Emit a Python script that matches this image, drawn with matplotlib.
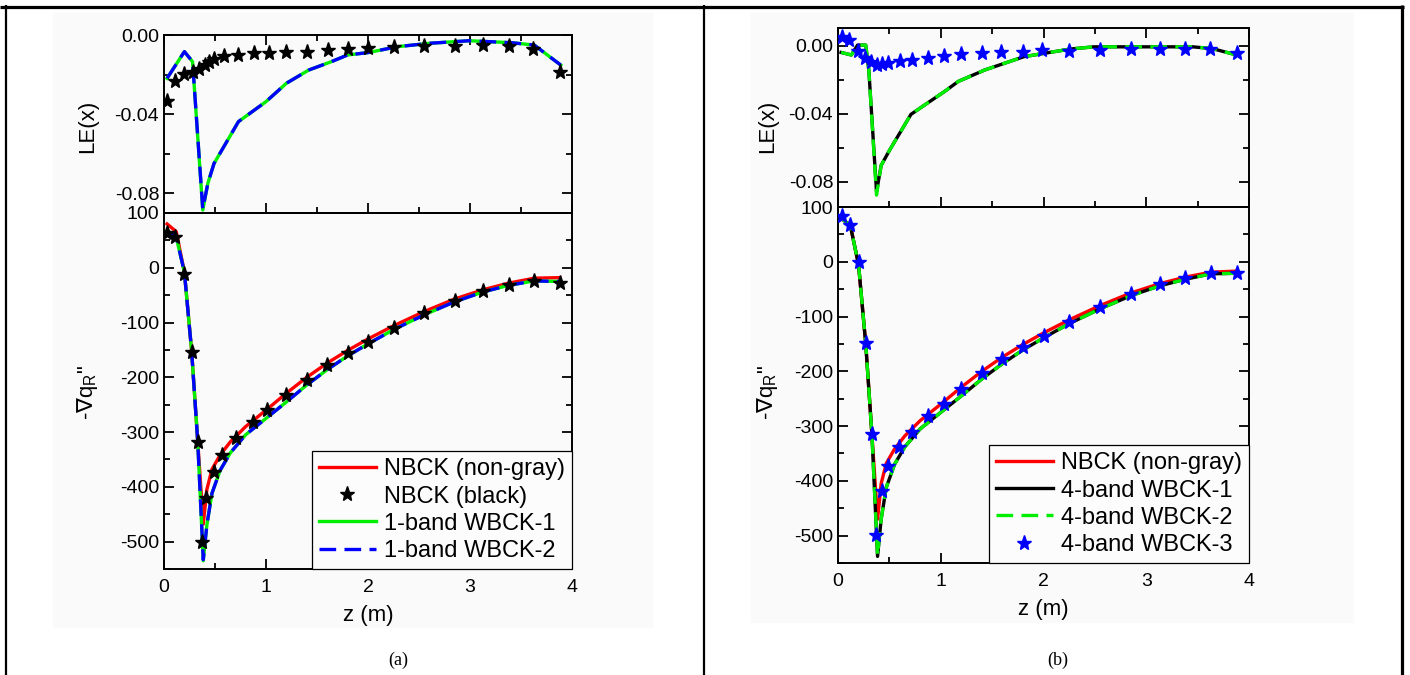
import matplotlib
matplotlib.use('Agg')
import matplotlib.pyplot as plt
from matplotlib.ticker import MultipleLocator, FormatStrFormatter
from matplotlib.patches import Rectangle
from matplotlib.lines import Line2D

plt.rcParams['font.family'] = ['Liberation Sans', 'DejaVu Sans']
plt.rcParams['axes.unicode_minus'] = False
plt.rcParams['mathtext.fontset'] = 'dejavusans'

# ---------------- panel (a) ----------------
# LE(x), 1-band WBCK lines
a_le_z = [0.03, 0.20, 0.28, 0.38, 0.43, 0.49, 0.73, 1.00, 1.20, 1.42, 1.64, 1.80,
          2.00, 2.29, 2.60, 2.99, 3.41, 3.63, 3.89]
a_le_w1 = [-0.0219, -0.0084, -0.0135, -0.0885, -0.0750, -0.0650, -0.0438, -0.0337,
           -0.0244, -0.0177, -0.0135, -0.0101, -0.0089, -0.0059, -0.0042, -0.0029,
           -0.0039, -0.0051, -0.0152]
a_le_w2 = [-0.0219, -0.0084, -0.0135, -0.0880, -0.0750, -0.0650, -0.0438, -0.0337,
           -0.0244, -0.0177, -0.0135, -0.0101, -0.0089, -0.0059, -0.0042, -0.0029,
           -0.0039, -0.0051, -0.0152]
# LE(x), NBCK (black) stars
a_le_bz = [0.03, 0.11, 0.20, 0.28, 0.34, 0.40, 0.44, 0.49, 0.59, 0.73, 0.88, 1.03,
           1.20, 1.40, 1.61, 1.80, 2.00, 2.25, 2.55, 2.85, 3.13, 3.38, 3.62, 3.88]
a_le_black = [-0.0333, -0.0231, -0.0199, -0.0185, -0.0173, -0.0150, -0.0135, -0.0123,
              -0.0106, -0.0101, -0.0093, -0.0093, -0.0088, -0.0084, -0.0076, -0.0072,
              -0.0067, -0.0062, -0.0056, -0.0056, -0.0051, -0.0056, -0.0072, -0.0185]

# -div q_R
a_q_z = [0.03, 0.12, 0.20, 0.27, 0.33, 0.385, 0.42, 0.47, 0.55, 0.65, 0.80, 1.00,
         1.20, 1.40, 1.60, 1.80, 2.00, 2.25, 2.55, 2.85, 3.13, 3.38, 3.63, 3.88]
a_q_nongray = [80, 66, -8, -150, -315, -468, -405, -368, -342, -318, -290, -260,
               -229, -200, -174, -151, -130, -106, -80, -57, -40, -28, -19, -18]
a_q_w1 = [68, 56, -8, -150, -315, -535, -470, -412, -370, -338, -305, -275,
          -245, -214, -186, -161, -139, -113, -86, -62, -44, -32, -24, -25]
a_q_w2 = [68, 56, -8, -150, -315, -533, -470, -412, -370, -338, -305, -275,
          -245, -214, -186, -161, -139, -113, -86, -62, -44, -32, -24, -25]
a_q_bz = [0.03, 0.11, 0.20, 0.27, 0.33, 0.37, 0.41, 0.49, 0.57, 0.71, 0.87, 1.01,
          1.20, 1.40, 1.60, 1.80, 2.00, 2.25, 2.55, 2.85, 3.13, 3.38, 3.63, 3.88]
a_q_black = [63, 57, -12, -153, -318, -500, -420, -373, -342, -311, -282, -260,
             -232, -205, -178, -155, -135, -110, -83, -60, -43, -32, -24, -27]

# ---------------- panel (b) ----------------
b_le_z = [0.03, 0.13, 0.19, 0.27, 0.30, 0.375, 0.42, 0.50, 0.71, 0.85, 1.04, 1.17,
          1.43, 1.62, 1.81, 2.00, 2.26, 2.49, 2.81, 3.13, 3.45, 3.64, 3.88]
b_le_w1 = [-0.0039, -0.0054, 0.0004, 0.0004, -0.0142, -0.0860, -0.0705, -0.0617,
           -0.0404, -0.0346, -0.0268, -0.0210, -0.0142, -0.0103, -0.0064, -0.0045,
           -0.0019, -0.0006, -0.0006, -0.0006, -0.0006, -0.0016, -0.0054]
b_le_w2 = [-0.0039, -0.0054, 0.0004, 0.0004, -0.0142, -0.0880, -0.0705, -0.0617,
           -0.0404, -0.0346, -0.0268, -0.0210, -0.0142, -0.0103, -0.0064, -0.0045,
           -0.0019, -0.0006, -0.0006, -0.0006, -0.0006, -0.0016, -0.0054]
b_le_sz = [0.04, 0.11, 0.19, 0.26, 0.32, 0.38, 0.43, 0.49, 0.60, 0.72, 0.88, 1.03,
           1.20, 1.40, 1.59, 1.80, 1.99, 2.25, 2.55, 2.85, 3.13, 3.38, 3.62, 3.88]
b_le_w3 = [0.0052, 0.0033, -0.0029, -0.0074, -0.0093, -0.0113, -0.0107, -0.0099,
           -0.0089, -0.0083, -0.0074, -0.0060, -0.0050, -0.0045, -0.0039, -0.0039,
           -0.0025, -0.0029, -0.0025, -0.0021, -0.0016, -0.0019, -0.0016, -0.0045]

b_q_z = [0.03, 0.12, 0.20, 0.27, 0.33, 0.385, 0.42, 0.47, 0.55, 0.65, 0.80, 1.00,
         1.20, 1.40, 1.60, 1.80, 2.00, 2.25, 2.55, 2.85, 3.13, 3.38, 3.63, 3.88]
b_q_nongray = [79, 67, -6, -150, -315, -470, -405, -368, -342, -318, -290, -260,
               -229, -200, -174, -151, -130, -106, -80, -57, -40, -28, -19, -17]
b_q_w1 = [80, 66, -5, -150, -315, -538, -470, -412, -370, -338, -305, -275,
          -245, -214, -186, -161, -139, -113, -86, -62, -44, -32, -22, -21]
b_q_w2 = [80, 66, -5, -150, -315, -536, -470, -412, -370, -338, -305, -275,
          -245, -214, -186, -161, -139, -113, -86, -62, -44, -32, -22, -21]
b_q_sz = [0.04, 0.12, 0.20, 0.27, 0.33, 0.37, 0.43, 0.49, 0.59, 0.72, 0.88, 1.03,
          1.20, 1.40, 1.60, 1.80, 2.00, 2.25, 2.55, 2.85, 3.13, 3.38, 3.63, 3.88]
b_q_w3 = [83, 68, -1, -148, -314, -499, -419, -373, -339, -310, -282, -259,
          -232, -203, -177, -155, -135, -110, -82, -59, -41, -30, -21, -20]

W, H = 1410, 675
LW = 2.4


def fx(px):
    return px / W


def fy(py):
    return 1 - py / H


def style(ax, top_panel):
    for s in ax.spines.values():
        s.set_linewidth(1.4)
    ax.set_facecolor('none')
    ax.set_xlim(0, 4)
    ax.xaxis.set_major_locator(MultipleLocator(1))
    ax.xaxis.set_minor_locator(MultipleLocator(0.5))
    ax.tick_params(which='both', direction='in', labelsize=14, width=1.3,
                   left=True, right=True, bottom=True, top=top_panel)
    ax.tick_params(which='major', length=7)
    ax.tick_params(which='minor', length=4)
    if top_panel:
        ax.tick_params(axis='x', labelbottom=False)
        ax.yaxis.set_major_locator(MultipleLocator(0.04))
        ax.yaxis.set_minor_locator(MultipleLocator(0.02))
        ax.yaxis.set_major_formatter(FormatStrFormatter('%.2f'))
    else:
        ax.set_ylim(-550, 100)
        ax.yaxis.set_major_locator(MultipleLocator(100))
        ax.yaxis.set_minor_locator(MultipleLocator(50))
        ax.tick_params(axis='x', pad=7)


fig = plt.figure(figsize=(W / 100, H / 100), dpi=100)

# faint screenshot backgrounds behind each chart
fig.add_artist(Rectangle((fx(53), fy(627)), fx(652 - 53), (627 - 13) / H,
                         transform=fig.transFigure, color='#fafafa', zorder=-5))
fig.add_artist(Rectangle((fx(751), fy(622)), fx(1353 - 751), (622 - 13) / H,
                         transform=fig.transFigure, color='#fafafa', zorder=-5))

# ---- (a) ----
ax1 = fig.add_axes([fx(164), fy(213), fx(572 - 164), (213 - 35) / H])
ax2 = fig.add_axes([fx(164), fy(569), fx(572 - 164), (569 - 213) / H])
style(ax1, True)
style(ax2, False)
ax1.set_ylim(-0.09, 0.0)

ax1.plot(a_le_z, a_le_w1, color='#00ee00', lw=LW, zorder=2)
ax1.plot(a_le_z, a_le_w2, color='#0000ff', lw=LW, dashes=(5, 2.5), zorder=3)
ax1.plot(a_le_bz, a_le_black, ls='none', marker='*', color='k', ms=11, zorder=4)

ax2.plot(a_q_z, a_q_nongray, color='#ff0000', lw=LW, label='NBCK (non-gray)', zorder=2)
ax2.plot(a_q_bz, a_q_black, ls='none', marker='*', color='k', ms=11,
         label='NBCK (black)', zorder=5)
ax2.plot(a_q_z, a_q_w1, color='#00ee00', lw=LW, label='1-band WBCK-1', zorder=3)
ax2.plot(a_q_z, a_q_w2, color='#0000ff', lw=LW, dashes=(5, 2.5),
         label='1-band WBCK-2', zorder=4)

# ---- (b) ----
ax3 = fig.add_axes([fx(838), fy(207), fx(1249 - 838), (207 - 28) / H])
ax4 = fig.add_axes([fx(838), fy(563), fx(1249 - 838), (563 - 207) / H])
style(ax3, True)
style(ax4, False)
ax3.set_ylim(-0.095, 0.0105)

ax3.plot(b_le_z, b_le_w1, color='k', lw=LW, zorder=2)
ax3.plot(b_le_z, b_le_w2, color='#00ee00', lw=LW, dashes=(5, 2.5), zorder=3)
ax3.plot(b_le_sz, b_le_w3, ls='none', marker='*', color='#0000ff', ms=11, zorder=4)

ax4.plot(b_q_z, b_q_nongray, color='#ff0000', lw=LW, label='NBCK (non-gray)', zorder=2)
ax4.plot(b_q_z, b_q_w1, color='k', lw=LW, label='4-band WBCK-1', zorder=3)
ax4.plot(b_q_z, b_q_w2, color='#00ee00', lw=LW, dashes=(5, 2.5),
         label='4-band WBCK-2', zorder=4)
ax4.plot(b_q_sz, b_q_w3, ls='none', marker='*', color='#0000ff', ms=11,
         label='4-band WBCK-3', zorder=5)

for ax in (ax2, ax4):
    leg = ax.legend(loc='lower right', bbox_to_anchor=(1, 0), borderaxespad=0,
                    fontsize=17, fancybox=False, edgecolor='k', framealpha=1,
                    facecolor='#fcfcfc', handlelength=2.4, handletextpad=0.35,
                    labelspacing=0.22, borderpad=0.3)
    leg.get_frame().set_linewidth(0.9)
    ax.set_xlabel('z (m)', fontsize=16, labelpad=7)

# y labels
ylab = r'-$\nabla$q$_\mathregular{R}$"'
fig.text(fx(88), fy(126), 'LE(x)', rotation=90, fontsize=16, ha='center', va='center')
fig.text(fx(88), fy(392), ylab, rotation=90, fontsize=16, ha='center', va='center')
fig.text(fx(768), fy(126), 'LE(x)', rotation=90, fontsize=16, ha='center', va='center')
fig.text(fx(768), fy(392), ylab, rotation=90, fontsize=16, ha='center', va='center')

# captions
fig.text(fx(398), fy(660), '(a)', fontsize=13, family='Liberation Serif',
         ha='center', va='center')
fig.text(fx(1058), fy(660), '(b)', fontsize=13, family='Liberation Serif',
         ha='center', va='center')


# table borders
def rule(x0, y0, x1, y1, lw):
    fig.add_artist(Line2D([fx(x0), fx(x1)], [fy(y0), fy(y1)],
                          transform=fig.transFigure, color='k', lw=lw,
                          solid_capstyle='butt'))


rule(0, 6.5, 1404, 6.5, 2.3)
rule(6, 5, 6, 675, 1.6)
rule(703.5, 5, 703.5, 675, 1.6)
rule(1402, 5, 1402, 675, 2.3)

fig.savefig('out.png', dpi=100)
